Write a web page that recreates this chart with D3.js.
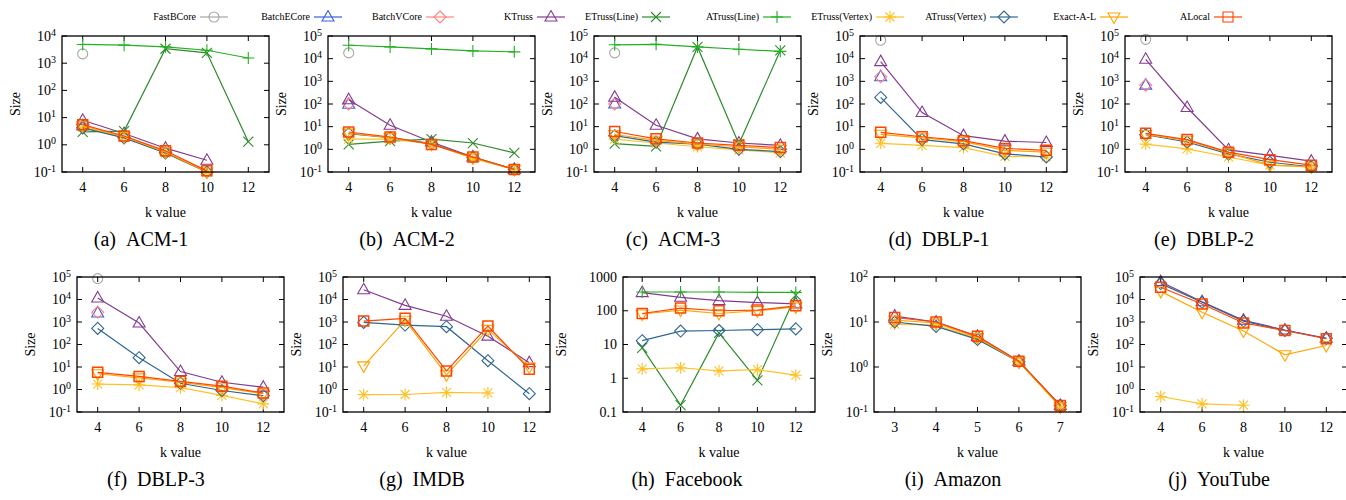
<!DOCTYPE html>
<html>
<head>
<meta charset="utf-8">
<script src="https://cdn.jsdelivr.net/npm/d3@7"></script>
<style>
body { margin: 0; background: #fff; }
svg text { fill: #000; }
</style>
</head>
<body>
<svg id="chart" width="1346" height="500" font-family="'Liberation Serif', 'Times New Roman', 'DejaVu Serif', serif"></svg>
<script>
// series, in legend / drawing order
const seriesNames = ['FastBCore', 'BatchECore', 'BatchVCore', 'KTruss', 'ETruss(Line)',
	'ATruss(Line)', 'ETruss(Vertex)', 'ATruss(Vertex)', 'Exact-A-L', 'ALocal'];

const kValues = [4, 6, 8, 10, 12];
const kAmazon = [3, 4, 5, 6, 7];

const _ = null;

// one row per series (same order as seriesNames), one column per k
const acm1 = [
	[2200, _, _, _, _],
	[5, _, _, _, _],
	[5, _, _, _, _],
	[8, 2.6, 0.75, 0.27, _],
	[3, 3.2, 3400, 2400, 1.3],
	[4900, 4600, 4000, 3000, 1550],
	[4.5, 1.9, 0.5, 0.1, _],
	[4.2, 1.8, 0.5, 0.1, _],
	[5, 2.0, 0.55, 0.1, _],
	[5.5, 2.1, 0.6, 0.11, _]
];
const acm2 = [
	[18000, _, _, _, _],
	[97, _, _, _, _],
	[100, _, _, _, _],
	[155, 11.5, 2.1, 0.46, 0.13],
	[1.65, 2.3, 2.8, 1.9, 0.7],
	[39000, 33000, 27000, 22000, 20000],
	[2.8, 2.8, 1.8, 0.4, 0.13],
	[4.9, 3.3, 1.8, 0.44, 0.13],
	[5.2, 3.3, 1.7, 0.42, 0.13],
	[5.8, 3.5, 1.65, 0.46, 0.13]
];
const acm3 = [
	[18000, _, _, _, _],
	[100, _, _, _, _],
	[100, _, _, _, _],
	[200, 11.5, 2.9, 1.9, 1.5],
	[1.8, 1.35, 33000, 1.7, 23000],
	[41000, 43000, 33000, 26000, 21000],
	[2.8, 1.9, 1.3, 0.95, 0.7],
	[4, 2.1, 1.7, 1.0, 0.8],
	[4.5, 2.5, 1.7, 1.3, 1.0],
	[6.1, 2.9, 1.9, 1.5, 1.2]
];
const dblp1 = [
	[65000, _, _, _, _],
	[1600, _, _, _, _],
	[1600, _, _, _, _],
	[7400, 42, 4, 2.3, 2.0],
	[_, _, _, _, _],
	[_, _, _, _, _],
	[1.85, 1.5, 1.2, 0.49, 0.46],
	[195, 2.7, 1.75, 0.63, 0.46],
	[4.6, 3.2, 2.2, 0.9, 0.75],
	[5.6, 3.6, 2.4, 1.1, 0.9]
];
const dblp2 = [
	[71000, _, _, _, _],
	[680, _, _, _, _],
	[680, _, _, _, _],
	[9400, 70, 0.95, 0.54, 0.3],
	[_, _, _, _, _],
	[_, _, _, _, _],
	[1.7, 1.05, 0.46, 0.2, 0.17],
	[4.4, 2.1, 0.63, 0.27, 0.17],
	[4.5, 2.5, 0.7, 0.2, 0.17],
	[5.1, 2.7, 0.75, 0.35, 0.2]
];
const dblp3 = [
	[85000, _, _, _, _],
	[2500, _, _, _, _],
	[2700, _, _, _, _],
	[11700, 900, 6.3, 2.1, 1.27],
	[_, _, _, _, _],
	[_, _, _, _, _],
	[1.75, 1.6, 1.2, 0.55, 0.23],
	[520, 26, 1.9, 0.9, 0.53],
	[5, 3.3, 2.1, 1.2, 0.65],
	[5.8, 3.8, 2.3, 1.4, 0.7]
];
const imdb = [
	[_, _, _, _, _],
	[_, _, _, _, _],
	[_, _, _, _, _],
	[27000, 5500, 1800, 235, 15.6],
	[_, _, _, _, _],
	[_, _, _, _, _],
	[0.59, 0.6, 0.74, 0.7, _],
	[960, 730, 620, 19, 0.65],
	[11.2, 1200, 4.5, 470, 10],
	[1100, 1450, 6.7, 660, 8]
];
const facebook = [
	[_, _, _, _, _],
	[_, _, _, _, _],
	[_, _, _, _, _],
	[345, 250, 200, 175, 160],
	[7.9, 0.16, 22, 0.87, 290],
	[360, 360, 360, 350, 350],
	[1.9, 2.05, 1.65, 1.8, 1.23],
	[13, 25, 26, 27.5, 29],
	[80, 105, 83, 100, 130],
	[83, 120, 100, 105, 140]
];
const amazon = [
	[_, _, _, _, _],
	[_, _, _, _, _],
	[_, _, _, _, _],
	[13.5, 10, 4.8, 1.35, 0.14],
	[_, _, _, _, _],
	[_, _, _, _, _],
	[9, 8.5, 4.3, 1.3, 0.13],
	[10, 8, 4.1, 1.3, 0.14],
	[11, 9.5, 4.5, 1.3, 0.13],
	[12.6, 10, 4.8, 1.35, 0.14]
];
const youtube = [
	[_, _, _, _, _],
	[_, _, _, _, _],
	[_, _, _, _, _],
	[62000, 8000, 1200, 440, 190],
	[_, _, _, _, _],
	[_, _, _, _, _],
	[0.49, 0.23, 0.2, _, _],
	[51000, 7500, 1100, 420, 190],
	[23000, 2700, 400, 35, 90],
	[35000, 6300, 900, 420, 180]
];

const yTicksLog4 = [-1, 0, 1, 2, 3, 4];
const yTicksLog5 = [-1, 0, 1, 2, 3, 4, 5];
const yTicksLog2 = [-1, 0, 1, 2];
const yTicksFacebook = ['0.1', '1', '10', '100', '1000'];

// styles
const colours = ['#a6a6a6', '#3a5fe0', '#ff8080', '#823c8e', '#2e8b2e',
	'#22b022', '#ffc125', '#2f6690', '#ffa500', '#ff4500'];
const symbols = ['circle', 'triUp', 'diamond', 'triUp', 'cross',
	'plus', 'star', 'diamond', 'triDown', 'square'];

// layout
const rows = [{top: 36, bottom: 172}, {top: 277, bottom: 412}];
const legendX = [214, 328, 440, 551, 656, 777, 890, 1004, 1114, 1228];

const panels = [
	{data: acm1, name: '(a)\u00a0\u00a0ACM-1', ox: 15, row: 0, ks: kValues, ticks: yTicksLog4},
	{data: acm2, name: '(b)\u00a0\u00a0ACM-2', ox: 281, row: 0, ks: kValues, ticks: yTicksLog5},
	{data: acm3, name: '(c)\u00a0\u00a0ACM-3', ox: 547, row: 0, ks: kValues, ticks: yTicksLog5},
	{data: dblp1, name: '(d)\u00a0\u00a0DBLP-1', ox: 813, row: 0, ks: kValues, ticks: yTicksLog5},
	{data: dblp2, name: '(e)\u00a0\u00a0DBLP-2', ox: 1078, row: 0, ks: kValues, ticks: yTicksLog5},
	{data: dblp3, name: '(f)\u00a0\u00a0DBLP-3', ox: 30, row: 1, ks: kValues, ticks: yTicksLog5},
	{data: imdb, name: '(g)\u00a0\u00a0IMDB', ox: 296, row: 1, ks: kValues, ticks: yTicksLog5},
	{data: facebook, name: '(h)\u00a0\u00a0Facebook', ox: 561, row: 1, ks: kValues, ticks: yTicksFacebook, plain: true},
	{data: amazon, name: '(i)\u00a0\u00a0Amazon', ox: 827, row: 1, ks: kAmazon, ticks: yTicksLog2},
	{data: youtube, name: '(j)\u00a0\u00a0YouTube', ox: 1093, row: 1, ks: kValues, ticks: yTicksLog5}
];

function symbolPath(type) {
	switch (type) {
		case 'circle': return 'M5,0A5,5 0 1,1 -5,0A5,5 0 1,1 5,0Z';
		case 'triUp': return 'M0,-6.5L6,4L-6,4Z';
		case 'triDown': return 'M0,6.5L6,-4L-6,-4Z';
		case 'diamond': return 'M0,-6L6,0L0,6L-6,0Z';
		case 'square': return 'M-5,-5H5V5H-5Z';
		case 'cross': return 'M-5,-5L5,5M-5,5L5,-5';
		case 'plus': return 'M-6,0H6M0,-6V6';
		case 'star': return 'M-6,0H6M0,-6V6M-4.5,-4.5L4.5,4.5M-4.5,4.5L4.5,-4.5';
	}
}

const svg = d3.select('#chart');

function drawPanel(p) {
	const row = rows[p.row];
	const left = p.ox + (p.plain ? 62 : 47);
	const right = p.ox + 254;
	const kMin = d3.min(p.ks), kMax = d3.max(p.ks);
	const step = p.ks[1] - p.ks[0];

	const x = d3.scaleLinear()
		.domain([kMin - step / 2, kMax + step / 2])
		.range([left, right]);

	const yDomain = p.plain
		? [+p.ticks[0], +p.ticks[p.ticks.length - 1]]
		: [Math.pow(10, p.ticks[0]), Math.pow(10, p.ticks[p.ticks.length - 1])];
	const y = d3.scaleLog()
		.domain(yDomain)
		.range([row.bottom, row.top]);

	const g = svg.append('g');

	// ticks (inward, mirrored)
	const tickVals = p.plain ? p.ticks.map(Number) : p.ticks.map(t => Math.pow(10, t));
	const tl = 5;
	g.selectAll('.ytick')
		.data(tickVals)
		.enter().append('path')
			.attr('d', d => `M${left},${y(d)}h${tl}M${right},${y(d)}h${-tl}`)
			.attr('stroke', '#000')
			.attr('stroke-width', 1);
	g.selectAll('.xtick')
		.data(p.ks)
		.enter().append('path')
			.attr('d', d => `M${x(d)},${row.bottom}v${-tl}M${x(d)},${row.top}v${tl}`)
			.attr('stroke', '#000')
			.attr('stroke-width', 1);

	// y tick labels
	const yl = g.selectAll('.ylabel')
		.data(p.ticks)
		.enter().append('text')
			.attr('x', left - 6)
			.attr('y', (d, i) => y(tickVals[i]) + 4.5)
			.attr('text-anchor', 'end')
			.style('font-size', '14px');
	if (p.plain) {
		yl.text(d => d);
	} else {
		yl.append('tspan').text('10');
		yl.append('tspan')
			.attr('dy', -5)
			.style('font-size', '10px')
			.text(d => d);
	}

	// x tick labels
	g.selectAll('.xlabel')
		.data(p.ks)
		.enter().append('text')
			.attr('x', d => x(d))
			.attr('y', row.bottom + 20)
			.attr('text-anchor', 'middle')
			.style('font-size', '14px')
			.text(d => d);

	// axis titles
	g.append('text')
		.attr('x', (left + right) / 2)
		.attr('y', row.bottom + 45)
		.attr('text-anchor', 'middle')
		.style('font-size', '14px')
		.text('k value');
	g.append('text')
		.attr('transform', `translate(${p.ox + 5},${(row.top + row.bottom) / 2}) rotate(-90)`)
		.attr('text-anchor', 'middle')
		.style('font-size', '14px')
		.text('Size');

	// caption
	g.append('text')
		.attr('x', p.ox + 126)
		.attr('y', row.bottom + 74)
		.attr('text-anchor', 'middle')
		.style('font-size', '20px')
		.text(p.name);

	// series
	const line = d3.line()
		.defined(d => d.v != null)
		.x(d => x(d.k))
		.y(d => y(d.v));

	p.data.forEach((vals, si) => {
		const pts = vals.map((v, i) => ({k: p.ks[i], v: v}));
		g.append('path')
			.datum(pts)
			.attr('d', line)
			.attr('fill', 'none')
			.attr('stroke', colours[si])
			.attr('stroke-width', 1.2);
		g.selectAll(null)
			.data(pts.filter(d => d.v != null))
			.enter().append('path')
				.attr('d', symbolPath(symbols[si]))
				.attr('transform', d => `translate(${x(d.k)},${y(d.v)})`)
				.attr('fill', 'none')
				.attr('stroke', colours[si])
				.attr('stroke-width', si === 9 ? 1.5 : 1.1);
	});

	// frame
	g.append('rect')
		.attr('x', left)
		.attr('y', row.top)
		.attr('width', right - left)
		.attr('height', row.bottom - row.top)
		.attr('fill', 'none')
		.attr('stroke', '#000')
		.attr('stroke-width', 1.3);
}

panels.forEach(drawPanel);

// legend
const legend = svg.append('g').attr('class', 'legend');
seriesNames.forEach((name, i) => {
	const cx = legendX[i];
	legend.append('text')
		.attr('x', cx - 18)
		.attr('y', 20)
		.attr('text-anchor', 'end')
		.style('font-size', '10px')
		.text(name);
	legend.append('path')
		.attr('d', `M${cx - 14},17H${cx + 14}`)
		.attr('stroke', colours[i])
		.attr('stroke-width', 1.2);
	legend.append('path')
		.attr('d', symbolPath(symbols[i]))
		.attr('transform', `translate(${cx},17)`)
		.attr('fill', 'none')
		.attr('stroke', colours[i])
		.attr('stroke-width', 1.1);
});
</script>
</body>
</html>
